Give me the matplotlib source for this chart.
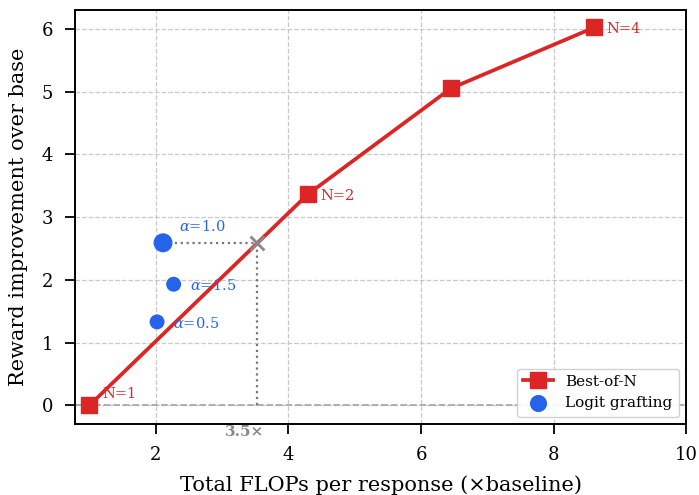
import matplotlib
matplotlib.use("Agg")
import matplotlib.pyplot as plt

plt.rcParams['font.family'] = 'serif'
plt.rcParams['font.serif'] = ['DejaVu Serif']
plt.rcParams['mathtext.fontset'] = 'dejavuserif'

# best-of-N curve
bon_n = [1, 2, 3, 4]
bon_flops = [1.0, 4.29, 6.45, 8.61]
bon_reward = [0.0, 3.36, 5.05, 6.02]

# logit grafting points
lg_alpha = ['1.0', '1.5', '0.5']
lg_flops = [2.11, 2.27, 2.02]
lg_reward = [2.59, 1.93, 1.33]
lg_size = [160, 95, 95]

match_flops = 3.52

red = '#dc2626'
blue = '#2563eb'

fig, ax = plt.subplots(figsize=(6.99, 4.95), dpi=100)
fig.subplots_adjust(left=0.107, right=0.982, top=0.98, bottom=0.143)

ax.grid(True, linestyle='--', color='#c8c8c8', linewidth=0.9)
ax.set_axisbelow(True)

ax.axhline(0, color='#aaaaaa', linestyle='--', linewidth=1.3, zorder=1)

ax.plot(bon_flops, bon_reward, color=red, linewidth=2.7, marker='s',
        markersize=11, label='Best-of-N', zorder=3)
for n, x, y in zip(bon_n, bon_flops, bon_reward):
    if n == 3:
        continue
    off = (9, 8) if n == 1 else (9, -1)
    ax.annotate(f'N={n}', (x, y), xytext=off, textcoords='offset points',
                color=red, fontsize=10.5, va='center')

ax.scatter(lg_flops, lg_reward, s=lg_size, color=blue, label='Logit grafting', zorder=4)
offsets = [(11.5, 12), (11.5, -1), (11.5, -1)]
for a, x, y, off in zip(lg_alpha, lg_flops, lg_reward, offsets):
    ax.annotate(rf'$\alpha$={a}', (x, y), xytext=off, textcoords='offset points',
                color=blue, fontsize=10.5, va='center')

# matching point on the best-of-N curve
ax.plot([lg_flops[0], match_flops], [lg_reward[0], lg_reward[0]], color='#777777',
        linestyle=':', linewidth=1.6, zorder=2)
ax.plot([match_flops, match_flops], [0, lg_reward[0]], color='#777777',
        linestyle=':', linewidth=1.6, zorder=2)
ax.scatter([match_flops], [lg_reward[0]], marker='x', s=100, color='#888888',
           linewidths=2, zorder=5)
ax.text(3.34, -0.43, '3.5×', color='#888888', fontsize=11,
        fontweight='bold', ha='center', va='center', clip_on=False)

ax.set_xlim(0.78, 10)
ax.set_ylim(-0.3, 6.3)
ax.set_xticks([2, 4, 6, 8, 10])
ax.set_yticks(range(7))
ax.tick_params(labelsize=13, length=7, width=1.3, pad=8.5)
ax.set_xlabel('Total FLOPs per response (×baseline)', fontsize=15, labelpad=8)
ax.set_ylabel('Reward improvement over base', fontsize=15, labelpad=10)
for s in ax.spines.values():
    s.set_linewidth(1.4)

ax.legend(loc='lower right', fontsize=11, framealpha=0.9)

fig.savefig('out.png')
